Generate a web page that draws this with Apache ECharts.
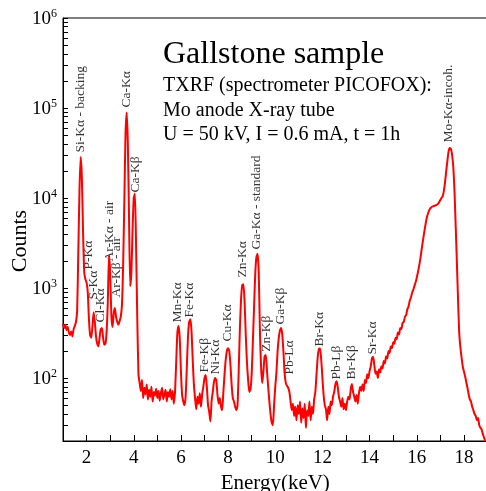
<!DOCTYPE html>
<html>
<head>
<meta charset="utf-8">
<script src="https://cdn.jsdelivr.net/npm/echarts@6/dist/echarts.min.js"></script>
<style>
  html, body { margin: 0; padding: 0; background: #fff; }
  #chart { width: 486px; height: 491px; }
</style>
</head>
<body>
<div id="chart"></div>
<script>
// TXRF spectrum, counts per 0.05 keV channel starting at 1.00 keV
const energyStart = 1.0;
const channelWidth = 0.05;
const counts = [
  /* 1.00 */ 400, 360, 390, 340, 370, 320, 300, 330, 290, 350, 380, 420, 560, 2600, 12500, 28500, 17000, 4200, 1500, 1250,
  /* 2.00 */ 1150, 900, 450, 300, 280, 380, 540, 420, 290, 240, 225, 280, 350, 360, 280, 235, 240, 330, 700, 2300,
  /* 3.00 */ 1500, 500, 370, 520, 600, 480, 420, 390, 430, 480, 650, 1800, 9000, 50000, 89000, 40000, 6000, 1050, 1500, 4500,
  /* 4.00 */ 10000, 11200, 2800, 450, 110, 88, 72, 95, 60, 78, 66, 85, 58, 74, 62, 80, 55, 70, 64, 76,
  /* 5.00 */ 60, 72, 56, 68, 78, 58, 66, 74, 55, 70, 62, 75, 58, 72, 52, 70, 150, 320, 380, 280,
  /* 6.00 */ 120, 65, 55, 50, 62, 130, 290, 420, 450, 330, 160, 85, 60, 45, 62, 52, 68, 48, 66, 80,
  /* 7.00 */ 100, 108, 80, 50, 42, 33, 55, 70, 90, 100, 95, 65, 52, 60, 48, 44, 70, 110, 160, 200,
  /* 8.00 */ 214, 200, 140, 85, 60, 55, 48, 44, 50, 120, 350, 750, 1080, 1100, 700, 300, 150, 95, 70, 75,
  /* 9.00 */ 110, 250, 600, 1400, 2200, 2400, 1500, 330, 130, 88, 120, 175, 180, 120, 80, 55, 40, 32, 30, 50,
  /* 10.00 */ 80, 115, 200, 280, 340, 360, 300, 190, 110, 88, 82, 78, 70, 55, 44, 52, 38, 48, 34, 50,
  /* 11.00 */ 40, 55, 32, 46, 36, 52, 28, 44, 38, 55, 34, 48, 40, 58, 70, 110, 170, 210, 215, 160,
  /* 12.00 */ 100, 65, 50, 45, 34, 48, 40, 55, 50, 62, 70, 85, 92, 80, 62, 55, 48, 60, 45, 52,
  /* 13.00 */ 44, 55, 62, 58, 75, 86, 70, 62, 55, 65, 52, 68, 80, 72, 85, 72, 95, 88, 110, 100,
  /* 14.00 */ 120, 135, 165, 173, 140, 112, 118, 100, 125, 115, 135, 128, 155, 145, 175, 165, 200, 190, 225, 215,
  /* 15.00 */ 250, 240, 280, 270, 320, 305, 360, 350, 410, 420, 480, 500, 580, 620, 720, 780, 880, 950, 1050, 1150,
  /* 16.00 */ 1300, 1500, 1750, 2100, 2600, 3200, 3900, 4700, 5600, 6400, 7000, 7500, 7800, 8000, 8100, 8200, 8300, 8400, 8600, 9000,
  /* 17.00 */ 9500, 10000, 10500, 12000, 15000, 20000, 26000, 33000, 36000, 35000, 30000, 22000, 12000, 5000, 2000, 750, 320, 220, 170, 135,
  /* 18.00 */ 118, 105, 90, 78, 66, 58, 55, 48, 44, 40, 38, 34, 36, 30, 28, 27, 24, 22, 20
];

// peak annotations: name, energy (keV) and the count level where the text starts
const peakNames = ['Si-Kα - backing', 'P-Kα', 'S-Kα', 'Cl-Kα', 'Ar-Kα - air', 'Ar-Kβ - air', 'Ca-Kα', 'Ca-Kβ',
  'Mn-Kα', 'Fe-Kα', 'Fe-Kβ', 'Ni-Kα', 'Cu-Kα', 'Zn-Kα', 'Ga-Kα - standard', 'Zn-Kβ', 'Ga-Kβ', 'Pb-Lα',
  'Br-Kα', 'Pb-Lβ', 'Br-Kβ', 'Sr-Kα', 'Mo-Kα-incoh.'];
const peakEnergy = [1.78, 2.10, 2.31, 2.63, 2.99, 3.28, 3.71, 4.09,
  5.87, 6.38, 7.01, 7.50, 7.99, 8.62, 9.22, 9.64, 10.25, 10.61,
  11.89, 12.61, 13.26, 14.13, 17.37];
const peakLabelBase = [31600, 1585, 736, 408, 1944, 774, 100000, 11400,
  408, 464, 114, 108, 251, 1292, 2644, 194, 388, 108,
  221, 95, 95, 180, 40800];

// axes
const xMajor = [2, 4, 6, 8, 10, 12, 14, 16, 18];
const yDecades = [100, 1000, 10000, 100000, 1000000];
const yTicks = [20, 30, 40, 50, 60, 70, 80, 90, 100,
  200, 300, 400, 500, 600, 700, 800, 900, 1000,
  2000, 3000, 4000, 5000, 6000, 7000, 8000, 9000, 10000,
  20000, 30000, 40000, 50000, 60000, 70000, 80000, 90000, 100000,
  200000, 300000, 400000, 500000, 600000, 700000, 800000, 900000, 1000000];

const infoLines = ['TXRF (spectrometer PICOFOX):', 'Mo anode X-ray tube', 'U = 50 kV, I = 0.6 mA, t = 1h'];

const FONT = '"Liberation Serif", "Times New Roman", serif';

const spectrum = counts.map((c, i) => [+(energyStart + i * channelWidth).toFixed(2), c]);
const peaks = peakEnergy.map((e, i) => [e, peakLabelBase[i], peakNames[i]]);

const chart = echarts.init(document.getElementById('chart'));

chart.setOption({
  animation: false,
  // the grid border gives the closed frame (top and right sides)
  grid: {
    left: 63, top: 18, right: -1.5, bottom: 50, outerBoundsMode: 'none',
    show: true, borderColor: '#000', borderWidth: 1, backgroundColor: 'transparent'
  },
  xAxis: {
    type: 'value', position: 'bottom', min: 1, max: 19, interval: 1,
    axisLine: { show: true, lineStyle: { color: '#000', width: 1 }, onZero: false },
    axisTick: { show: true, inside: true, length: 6, lineStyle: { color: '#000', width: 1 } },
    axisLabel: { show: true, customValues: xMajor, fontFamily: FONT, fontSize: 19, color: '#000', margin: 8 },
    splitLine: { show: false },
    name: 'Energy(keV)', nameLocation: 'middle', nameGap: 24,
    nameTextStyle: { fontFamily: FONT, fontSize: 21, color: '#000' }
  },
  yAxis: {
    type: 'log', position: 'left', min: 20, max: 1000000, logBase: 10,
    axisLine: { show: true, lineStyle: { color: '#000', width: 1 }, onZero: false },
    axisTick: { show: true, inside: true, length: 5, customValues: yTicks, lineStyle: { color: '#000', width: 1 } },
    axisLabel: {
      show: true, customValues: yDecades, margin: 6,
      formatter: v => '{b|10}{s|' + Math.round(Math.log10(v)) + '}',
      rich: {
        b: { fontFamily: FONT, fontSize: 19, color: '#000', verticalAlign: 'bottom' },
        s: { fontFamily: FONT, fontSize: 12, color: '#000', verticalAlign: 'bottom', padding: [0, 0, 9, 0] }
      }
    },
    splitLine: { show: false }
  },
  graphic: [
    { type: 'text', left: 163, top: 39, style: { text: 'Gallstone sample', font: '32px ' + FONT, fill: '#000' } },
    { type: 'text', left: 163, top: 76, style: { text: infoLines[0], font: '20px ' + FONT, fill: '#000' } },
    { type: 'text', left: 163, top: 100.5, style: { text: infoLines[1], font: '20px ' + FONT, fill: '#000' } },
    { type: 'text', left: 163, top: 125, style: { text: infoLines[2], font: '20px ' + FONT, fill: '#000' } },
    {
      type: 'text', x: 20, y: 241, rotation: Math.PI / 2,
      style: { text: 'Counts', font: '22px ' + FONT, fill: '#000', align: 'center', verticalAlign: 'middle' }
    }
  ],
  series: [
    {
      name: 'spectrum', type: 'line',
      data: spectrum, showSymbol: false, smooth: 0.2,
      lineStyle: { color: '#ff0000', width: 2 }, itemStyle: { color: '#ff0000' }
    },
    {
      name: 'peaks', type: 'scatter',
      data: peaks, symbolSize: 1, itemStyle: { color: 'rgba(0,0,0,0)' },
      label: {
        show: true, position: [0, 0], rotate: 90, align: 'left', verticalAlign: 'middle',
        fontFamily: FONT, fontSize: 13.5, color: '#000', textBorderWidth: 0,
        formatter: p => p.data[2]
      }
    }
  ]
});
</script>
</body>
</html>
